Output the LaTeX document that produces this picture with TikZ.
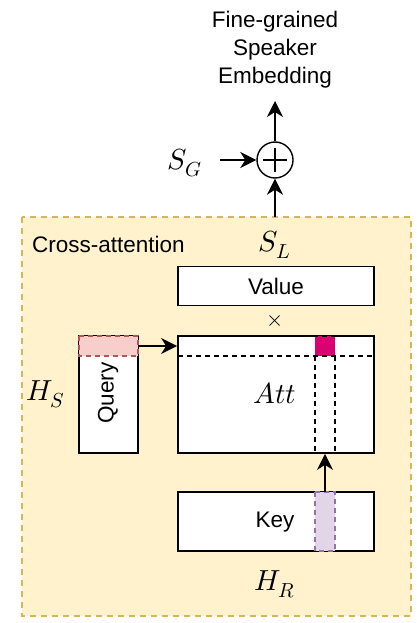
\documentclass[tikz,border=0pt]{standalone}
\usepackage{fontspec}
\usepackage{unicode-math}
\setmathfont{Latin Modern Math}
\setsansfont{Liberation Sans}
\usetikzlibrary{arrows.meta}
\begin{document}
\begin{tikzpicture}[x=1pt,y=-1pt,
  every node/.style={font=\sffamily\fontsize{22.5}{28}\selectfont, inner sep=0pt},
  mth/.style={font=\fontsize{29}{34}\selectfont},
  blk/.style={draw=black, line width=1.8pt, fill=white},
  arr/.style={line width=1.8pt, -{Stealth[length=16pt,width=16pt,inset=5pt]}},
  dsh/.style={line width=1.8pt, dash pattern=on 5pt off 4pt}]
\useasboundingbox (0,0) rectangle (416,623);
% outer region
\draw[fill={rgb,255:red,255;green,242;blue,204}, draw={rgb,255:red,214;green,182;blue,86}, line width=1.5pt, dash pattern=on 6pt off 5pt] (22,217) rectangle (411,616);
\node[anchor=west] (ca) at (32,244) {Cross-attention};
\node[mth] (sl) at (275,245) {$S_L$};
% value
\node[blk, minimum width=196pt, minimum height=39pt] (val) at (276,286) {Value};
\node[font=\fontsize{22}{26}\selectfont] (times) at (275,321) {$\times$};
% att
\node[blk, minimum width=196pt, minimum height=117pt] (att) at (276,394.5) {};
\node[mth] (atttxt) at (275,393) {$Att$};
\fill[fill={rgb,255:red,216;green,0;blue,115}] (315,336) rectangle (335,356);
\draw[dsh] (178,356) -- (374,356);
\draw[dsh] (315,356) -- (315,453);
\draw[dsh] (335,356) -- (335,453);
\draw[dsh] (178,336) -- (374,336);
\draw[line width=1.8pt] (178,356) -- (178,453) -- (374,453) -- (374,356);
% query
\node[blk, minimum width=59pt, minimum height=117pt] (q) at (108.5,394.5) {};
\draw[fill={rgb,255:red,248;green,206;blue,204}, draw={rgb,255:red,184;green,84;blue,80}, dsh] (79,336) rectangle (138,356);
\coordinate (qo) at (138,346);
\node[rotate=90] (qt) at (108,393) {Query};
\node[mth] (hs) at (46,394) {$H_S$};
\draw[arr] (qo) -- (att.west |- qo);
% key
\node[blk, minimum width=196pt, minimum height=59pt] (key) at (276,521.5) {};
\draw[fill={rgb,255:red,225;green,213;blue,231}, draw={rgb,255:red,150;green,115;blue,166}, dsh] (315,492) rectangle (335,551);
\node (kt) at (275,522) {Key};
\coordinate (ko) at (325,492);
\draw[arr] (ko) -- (ko |- att.south);
\node[mth] (hr) at (275,584) {$H_R$};
% top
\node[draw, circle, line width=1.4pt, minimum size=36pt, fill=white] (plus) at (275,160) {};
\draw[line width=1.2pt] (263,160) -- (287,160) (275,148) -- (275,172);
\coordinate (boxtop) at (275,217);
\draw[arr] (boxtop) -- (plus.south);
\node[mth] (sg) at (185,163) {$S_G$};
\draw[arr] (220,160) -- (plus.west);
\node[align=center] (out) at (275,50) {Fine-grained\\Speaker\\Embedding};
\draw[arr] (plus.north) -- (275,101);
\end{tikzpicture}
\end{document}
